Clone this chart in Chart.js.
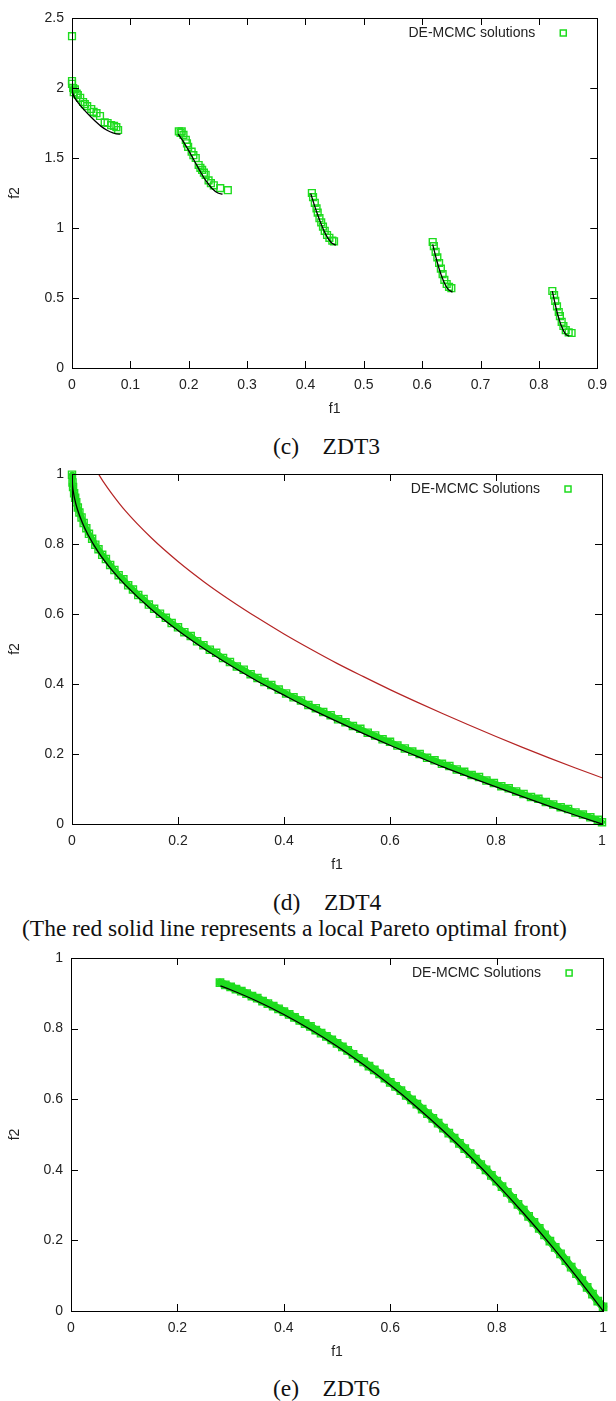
<!DOCTYPE html>
<html>
<head>
<meta charset="utf-8">
<title>ZDT fronts</title>
<script src="https://cdn.jsdelivr.net/npm/chart.js@4.4.1/dist/chart.umd.min.js"></script>
<style>
  body { margin: 0; background: #fff; width: 616px; height: 1401px; position: relative; overflow: hidden; }
  canvas { position: absolute; left: 0; }
  .cap { position: absolute; font-family: "Liberation Serif", "Times New Roman", serif; font-size: 23.5px; line-height: 24px; color: #111; white-space: pre; }
</style>
</head>
<body>
<canvas id="zdt3" width="616" height="430" style="top:0"></canvas>
<div class="cap" style="left:273px; top:434px">(c)    ZDT3</div>
<canvas id="zdt4" width="616" height="430" style="top:456px"></canvas>
<div class="cap" style="left:273px; top:890px">(d)    ZDT4</div>
<div class="cap" style="left:22px; top:916px">(The red solid line represents a local Pareto optimal front)</div>
<canvas id="zdt6" width="616" height="430" style="top:940px"></canvas>
<div class="cap" style="left:273px; top:1376px">(e)    ZDT6</div>

<script>
// ---- ZDT3 ----
// true front, five disconnected pieces (null breaks the line)
const zdt3FrontX = [0, 0.001, 0.0025, 0.005, 0.01, 0.02, 0.03, 0.04, 0.05, 0.06, 0.07, 0.08, 0.083,
  0.13,
  0.182, 0.19, 0.2, 0.21, 0.22, 0.23, 0.24, 0.25, 0.258,
  0.33,
  0.409, 0.415, 0.42, 0.425, 0.43, 0.435, 0.44, 0.445, 0.452,
  0.53,
  0.618, 0.625, 0.63, 0.635, 0.64, 0.645, 0.652,
  0.73,
  0.823, 0.83, 0.835, 0.84, 0.845, 0.852];
const zdt3FrontY = [2.0, 1.968, 1.95, 1.928, 1.897, 1.847, 1.803, 1.762, 1.726, 1.698, 1.679, 1.67, 1.67,
  null,
  1.671, 1.623, 1.553, 1.477, 1.402, 1.334, 1.282, 1.25, 1.242,
  null,
  1.246, 1.167, 1.105, 1.048, 0.996, 0.953, 0.918, 0.893, 0.877,
  null,
  0.883, 0.768, 0.696, 0.637, 0.591, 0.56, 0.542,
  null,
  0.549, 0.418, 0.342, 0.285, 0.246, 0.227];
// sampled solutions
const zdt3SolX = [0, 0, 0, 0.002, 0.003, 0.005, 0.008, 0.01, 0.014, 0.019, 0.022, 0.026, 0.033, 0.037, 0.042, 0.048, 0.056, 0.061, 0.067, 0.072, 0.076, 0.079,
  0.183, 0.186, 0.188, 0.191, 0.195, 0.197, 0.199, 0.205, 0.208, 0.212, 0.217, 0.22, 0.223, 0.226, 0.229, 0.234, 0.238, 0.243, 0.254, 0.267,
  0.411, 0.413, 0.416, 0.419, 0.421, 0.424, 0.427, 0.43, 0.433, 0.437, 0.441, 0.446, 0.449,
  0.618, 0.62, 0.623, 0.626, 0.629, 0.632, 0.635, 0.638, 0.642, 0.646, 0.65,
  0.823, 0.826, 0.828, 0.831, 0.834, 0.836, 0.839, 0.842, 0.846, 0.851, 0.856];
const zdt3SolY = [2.37, 2.05, 2.03, 2.0, 1.97, 1.99, 1.96, 1.95, 1.93, 1.9, 1.885, 1.87, 1.85, 1.83, 1.82, 1.8, 1.755, 1.75, 1.735, 1.73, 1.72, 1.7,
  1.69, 1.68, 1.69, 1.665, 1.63, 1.605, 1.58, 1.545, 1.52, 1.5, 1.45, 1.43, 1.415, 1.395, 1.38, 1.34, 1.32, 1.305, 1.285, 1.27,
  1.25, 1.22, 1.18, 1.14, 1.11, 1.07, 1.04, 1.01, 0.98, 0.95, 0.93, 0.91, 0.905,
  0.9, 0.87, 0.83, 0.79, 0.75, 0.71, 0.67, 0.63, 0.6, 0.58, 0.57,
  0.55, 0.52, 0.48, 0.44, 0.4, 0.37, 0.33, 0.3, 0.27, 0.255, 0.25];
const zdt3XTicks = [0, 0.1, 0.2, 0.3, 0.4, 0.5, 0.6, 0.7, 0.8, 0.9];
const zdt3YTicks = [0, 0.5, 1, 1.5, 2, 2.5];

// ---- ZDT4 ----
const zdt4FrontX = [0, 0.001, 0.0025, 0.005, 0.01, 0.02, 0.03, 0.05, 0.075, 0.1, 0.15, 0.2, 0.25, 0.3, 0.35, 0.4, 0.45, 0.5, 0.55, 0.6, 0.65, 0.7, 0.75, 0.8, 0.85, 0.9, 0.95, 1];
const zdt4FrontY = [1, 0.968, 0.95, 0.929, 0.9, 0.859, 0.827, 0.776, 0.726, 0.684, 0.613, 0.553, 0.5, 0.452, 0.408, 0.368, 0.329, 0.293, 0.258, 0.225, 0.194, 0.163, 0.134, 0.106, 0.078, 0.051, 0.025, 0];
// local front
const zdt4LocalX = [0.05, 0.06, 0.075, 0.1, 0.15, 0.2, 0.25, 0.3, 0.35, 0.4, 0.45, 0.5, 0.55, 0.6, 0.65, 0.7, 0.75, 0.8, 0.85, 0.9, 0.95, 1];
const zdt4LocalY = [1, 0.976, 0.944, 0.896, 0.817, 0.75, 0.691, 0.638, 0.589, 0.543, 0.5, 0.459, 0.421, 0.384, 0.349, 0.315, 0.282, 0.25, 0.219, 0.189, 0.16, 0.132];
const zdt4SolX = [0, 0.001, 0.002, 0.004, 0.006, 0.008, 0.011, 0.014, 0.018, 0.022, 0.027, 0.032, 0.038, 0.044, 0.05, 0.057, 0.064, 0.072, 0.08, 0.088,
  0.097, 0.106, 0.115, 0.125, 0.135, 0.145, 0.155, 0.166, 0.177, 0.188, 0.2, 0.212, 0.224, 0.236, 0.248, 0.26, 0.272, 0.285, 0.298, 0.311,
  0.324, 0.337, 0.35, 0.363, 0.376, 0.39, 0.404, 0.418, 0.432, 0.446, 0.46, 0.474, 0.488, 0.502, 0.516, 0.53, 0.544, 0.558, 0.572, 0.586,
  0.6, 0.614, 0.628, 0.642, 0.656, 0.67, 0.684, 0.698, 0.712, 0.726, 0.74, 0.754, 0.768, 0.782, 0.796, 0.81, 0.824, 0.838, 0.852, 0.866,
  0.88, 0.894, 0.908, 0.922, 0.936, 0.95, 0.964, 0.978, 0.992, 1];
const zdt4SolY = [0.998, 0.976, 0.963, 0.945, 0.932, 0.919, 0.904, 0.89, 0.876, 0.86, 0.845, 0.829, 0.815, 0.798, 0.785, 0.769, 0.757, 0.74, 0.726, 0.711,
  0.699, 0.682, 0.67, 0.654, 0.643, 0.627, 0.615, 0.601, 0.589, 0.574, 0.562, 0.548, 0.537, 0.522, 0.511, 0.498, 0.489, 0.474, 0.463, 0.45,
  0.441, 0.428, 0.417, 0.406, 0.397, 0.384, 0.373, 0.362, 0.353, 0.34, 0.331, 0.32, 0.311, 0.299, 0.291, 0.28, 0.272, 0.261, 0.253, 0.242,
  0.235, 0.224, 0.216, 0.207, 0.2, 0.189, 0.182, 0.172, 0.166, 0.156, 0.149, 0.14, 0.134, 0.124, 0.117, 0.108, 0.102, 0.093, 0.086, 0.077,
  0.072, 0.063, 0.056, 0.048, 0.043, 0.033, 0.027, 0.019, 0.012, 0.005];
const unitTicks = [0, 0.2, 0.4, 0.6, 0.8, 1];

// ---- ZDT6 ----
const zdt6FrontX = [0.2808, 0.3, 0.35, 0.4, 0.45, 0.5, 0.55, 0.6, 0.65, 0.7, 0.75, 0.8, 0.85, 0.9, 0.95, 1];
const zdt6FrontY = [0.921, 0.91, 0.8775, 0.84, 0.7975, 0.75, 0.6975, 0.64, 0.5775, 0.51, 0.4375, 0.36, 0.2775, 0.19, 0.0975, 0];
const zdt6SolX = [0.28, 0.29, 0.3, 0.31, 0.32, 0.33, 0.34, 0.35, 0.36, 0.37, 0.38, 0.39, 0.4, 0.41, 0.42, 0.43, 0.44, 0.45, 0.46, 0.47,
  0.48, 0.49, 0.5, 0.51, 0.52, 0.53, 0.54, 0.55, 0.56, 0.57, 0.58, 0.59, 0.6, 0.61, 0.62, 0.63, 0.64, 0.65, 0.66, 0.67,
  0.68, 0.69, 0.7, 0.71, 0.72, 0.73, 0.74, 0.75, 0.76, 0.77, 0.78, 0.79, 0.8, 0.81, 0.82, 0.83, 0.84, 0.85, 0.86, 0.87,
  0.88, 0.89, 0.9, 0.91, 0.92, 0.93, 0.94, 0.95, 0.96, 0.97, 0.98, 0.99, 1];
const zdt6SolY = [0.93, 0.924, 0.918, 0.912, 0.906, 0.899, 0.892, 0.886, 0.878, 0.871, 0.864, 0.856, 0.848, 0.84, 0.832, 0.823, 0.814, 0.806, 0.796, 0.787,
  0.778, 0.768, 0.758, 0.748, 0.738, 0.727, 0.716, 0.706, 0.694, 0.683, 0.672, 0.66, 0.648, 0.636, 0.624, 0.611, 0.598, 0.586, 0.572, 0.559,
  0.546, 0.532, 0.518, 0.504, 0.49, 0.475, 0.46, 0.446, 0.43, 0.415, 0.4, 0.384, 0.368, 0.352, 0.336, 0.319, 0.302, 0.286, 0.268, 0.251,
  0.234, 0.216, 0.198, 0.18, 0.162, 0.143, 0.124, 0.106, 0.086, 0.067, 0.048, 0.028, 0.012];

const GREEN = '#1edc1e';
const RED = '#b52424';

Chart.defaults.font.family = '"Liberation Sans", Arial, sans-serif';
Chart.defaults.font.size = 14;
Chart.defaults.color = '#222';

function pts(xs, ys) {
  return xs.map((x, i) => ({ x: x, y: ys[i] }));
}

// border box + inward tick marks on all four sides, like gnuplot's mirrored tics
const frameTicks = {
  id: 'frameTicks',
  afterDraw(chart) {
    const { ctx, chartArea: a, scales } = chart;
    const len = 7;
    ctx.save();
    ctx.strokeStyle = '#000';
    ctx.lineWidth = 1;
    ctx.beginPath();
    scales.x.ticks.forEach(t => {
      const px = Math.round(scales.x.getPixelForValue(t.value)) + 0.5;
      ctx.moveTo(px, a.bottom); ctx.lineTo(px, a.bottom - len);
      ctx.moveTo(px, a.top); ctx.lineTo(px, a.top + len);
    });
    scales.y.ticks.forEach(t => {
      const py = Math.round(scales.y.getPixelForValue(t.value)) + 0.5;
      ctx.moveTo(a.left, py); ctx.lineTo(a.left + len, py);
      ctx.moveTo(a.right, py); ctx.lineTo(a.right - len, py);
    });
    ctx.stroke();
    ctx.strokeRect(Math.round(a.left) + 0.5, Math.round(a.top) + 0.5,
      Math.round(a.right - a.left), Math.round(a.bottom - a.top));
    ctx.restore();
  }
};

// key in the top right corner: text first, marker after it
const keyBox = {
  id: 'keyBox',
  afterDraw(chart, args, opts) {
    const { ctx, chartArea: a } = chart;
    const y = a.top + 15;
    ctx.save();
    ctx.font = '14px "Liberation Sans", Arial, sans-serif';
    ctx.fillStyle = '#222';
    ctx.textAlign = 'right';
    ctx.textBaseline = 'middle';
    ctx.fillText(opts.text, a.right - 62, y);
    ctx.strokeStyle = GREEN;
    ctx.lineWidth = 1.5;
    ctx.strokeRect(a.right - 37, y - 3, 6, 6);
    ctx.restore();
  }
};

function makePlot(id, box, xr, yr, xTicks, yTicks, key, datasets) {
  const H = 430;
  return new Chart(document.getElementById(id), {
    type: 'scatter',
    data: { datasets: datasets },
    plugins: [frameTicks, keyBox],
    options: {
      responsive: false,
      animation: false,
      events: [],
      devicePixelRatio: 1,
      layout: { padding: { left: 0, top: box.top, right: 616 - box.right, bottom: H - box.bottom - 50 } },
      plugins: {
        legend: { display: false },
        tooltip: { enabled: false },
        keyBox: { text: key }
      },
      scales: {
        x: {
          type: 'linear', min: xr[0], max: xr[1],
          afterBuildTicks: s => { s.ticks = xTicks.map(v => ({ value: v })); },
          afterFit: s => { s.height = 50; },
          grid: { display: false, drawTicks: false },
          border: { display: false },
          ticks: { padding: 9, autoSkip: false, maxRotation: 0, callback: v => String(v) },
          title: { display: true, text: 'f1', padding: 0 }
        },
        y: {
          type: 'linear', min: yr[0], max: yr[1],
          afterBuildTicks: s => { s.ticks = yTicks.map(v => ({ value: v })); },
          afterFit: s => { s.width = box.left; },
          grid: { display: false, drawTicks: false },
          border: { display: false },
          ticks: { padding: 8, autoSkip: false, callback: v => String(v) },
          title: { display: true, text: 'f2', padding: { top: 7, bottom: 0 } }
        }
      }
    }
  });
}

function frontLine(xs, ys, color, width) {
  return {
    data: pts(xs, ys), showLine: true, borderColor: color, borderWidth: width,
    pointRadius: 0, cubicInterpolationMode: 'monotone', spanGaps: false, order: 0
  };
}

// band > 0 joins the dense solution cloud into a solid stroke of that width
function solutions(xs, ys, label, band, radius) {
  return {
    label: label, data: pts(xs, ys),
    showLine: band > 0, borderColor: GREEN, borderWidth: band,
    borderCapStyle: 'round', borderJoinStyle: 'round',
    pointStyle: 'rect', pointRadius: radius, pointBorderWidth: 1.4,
    pointBorderColor: GREEN, pointBackgroundColor: 'rgba(0,0,0,0)',
    clip: false, order: 2
  };
}

makePlot('zdt3', { left: 72, right: 602, top: 18, bottom: 368 }, [0, 0.9], [0, 2.5],
  zdt3XTicks, zdt3YTicks, 'DE-MCMC solutions', [
    frontLine(zdt3FrontX, zdt3FrontY, '#000', 1.3),
    solutions(zdt3SolX, zdt3SolY, 'DE-MCMC solutions', 0, 4.8)
  ]);

makePlot('zdt4', { left: 72, right: 602, top: 18, bottom: 368 }, [0, 1], [0, 1],
  unitTicks, unitTicks, 'DE-MCMC Solutions', [
    frontLine(zdt4FrontX, zdt4FrontY, '#000', 1.3),
    Object.assign(frontLine(zdt4LocalX, zdt4LocalY, RED, 1.2), { order: 1 }),
    solutions(zdt4SolX, zdt4SolY, 'DE-MCMC Solutions', 6, 5)
  ]);

makePlot('zdt6', { left: 71, right: 604, top: 18, bottom: 371 }, [0, 1], [0, 1],
  unitTicks, unitTicks, 'DE-MCMC Solutions', [
    frontLine(zdt6FrontX, zdt6FrontY, '#000', 1.3),
    solutions(zdt6SolX, zdt6SolY, 'DE-MCMC Solutions', 8, 5.2)
  ]);
</script>
</body>
</html>
